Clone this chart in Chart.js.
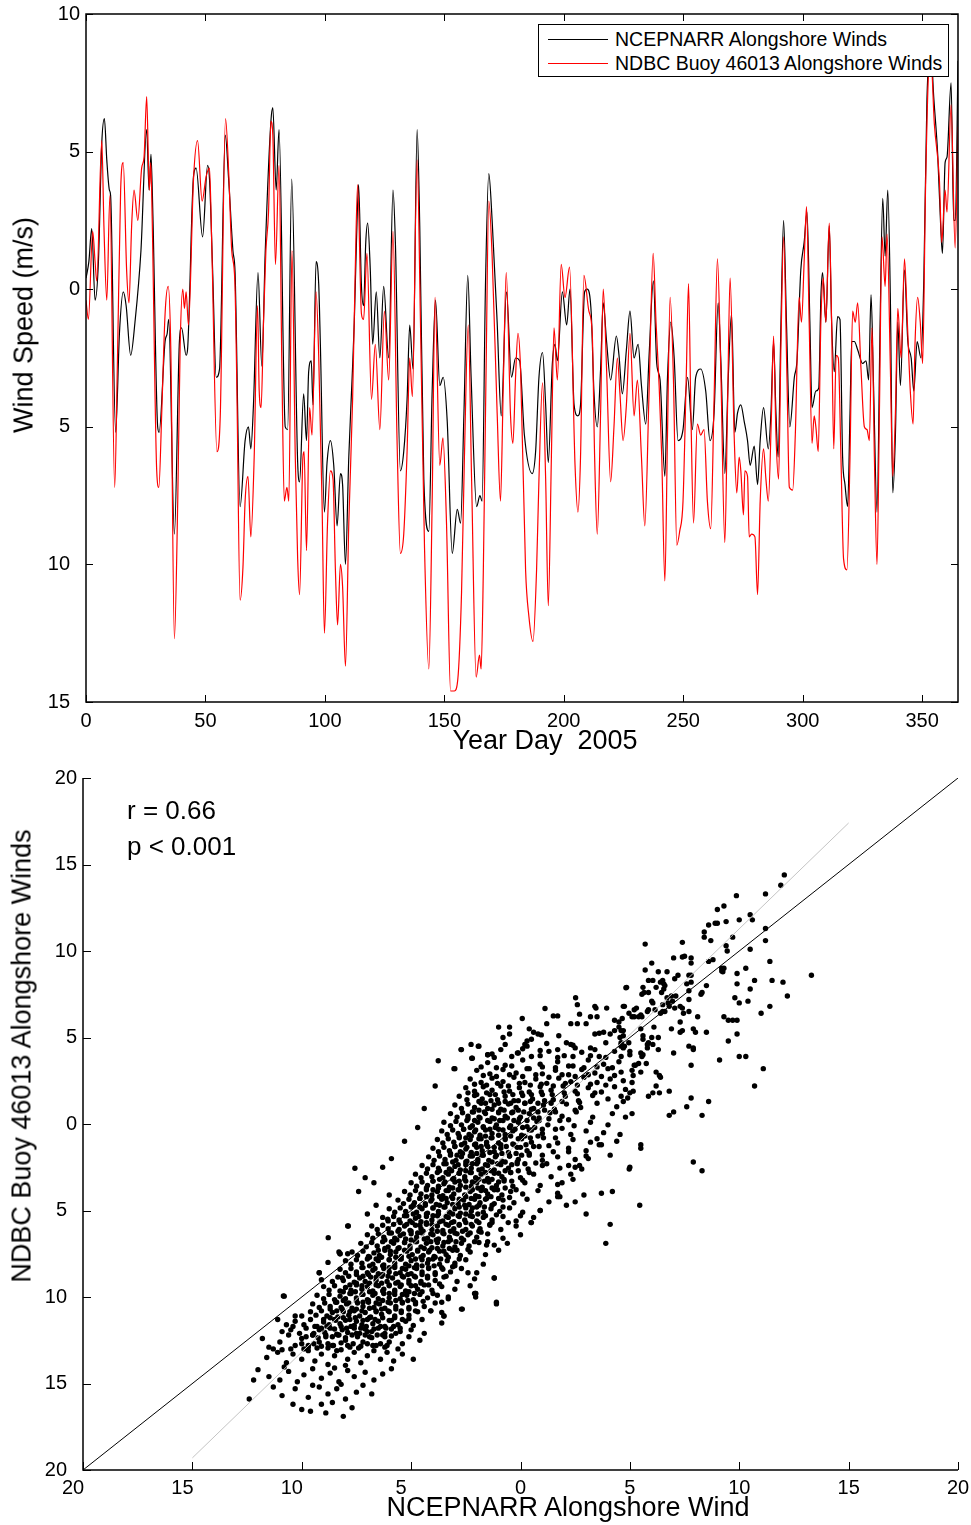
<!DOCTYPE html>
<html lang="en">

<head>
  <meta charset="UTF-8" />
  <title>Alongshore Winds 2005</title>
  <script src="https://cdn.jsdelivr.net/npm/chart.js"></script>
  <style>
    body { margin: 0; background: #fff; }
    #page { position: relative; width: 971px; height: 1525px; font-family: 'Liberation Sans', Arial, Helvetica, sans-serif; color: #000; }
    canvas { position: absolute; left: 0; }
    .label { position: absolute; white-space: pre; font-size: 27px; line-height: 1; }
    .centered { transform: translate(-50%, -50%); }
    .vertical { transform: translate(-50%, -50%) rotate(-90deg); }
    #legend { position: absolute; left: 538px; top: 24px; width: 409px; height: 51px; border: 1.5px solid #000; background: #fff; font-size: 19.5px; }
    #legend .row { position: absolute; left: 0; height: 24px; display: flex; align-items: center; }
    #legend .swatch { width: 60px; height: 0; border-top: 1.2px solid; margin: 0 7px 0 9px; }
  </style>
</head>

<body>
  <div id="page">
    <canvas id="windChart" width="971" height="760" style="top:0"></canvas>
    <canvas id="scatterChart" width="971" height="765" style="top:760px"></canvas>
    <div id="legend"></div>
    <div class="label vertical" style="left:24px; top:325px">Wind Speed (m/s)</div>
    <div class="label centered" style="left:545px; top:740px">Year Day  2005</div>
    <div class="label vertical" style="left:22px; top:1056px">NDBC Buoy 46013 Alongshore Winds</div>
    <div class="label centered" style="left:568px; top:1507px">NCEPNARR Alongshore Wind</div>
    <div class="label" style="left:127px; top:797px; font-size:26px">r = 0.66</div>
    <div class="label" style="left:127px; top:833px; font-size:26px">p &lt; 0.001</div>
  </div>

  <script>
    // ---- time series: [year day, wind speed m/s]
    const ncepSeries = [[0,0.4],[1.2,1.0],[2.4,2.2],[3.8,-0.4],[5.2,1.0],[6.6,5.3],[7.7,6.2],[8.7,4.7],[9.8,3.6],[10.3,3.4],[12.4,-5.2],[14,-1.6],[15.6,-0.1],[16.8,-0.6],[18.7,-2.4],[20.5,-1.2],[23,1.4],[25.4,5.8],[26.4,3.6],[27.2,4.9],[28,2.7],[30,-5.0],[30.6,-5.2],[33.1,-1.9],[34,-1.6],[34.6,-1.1],[37,-8.9],[39.1,-1.9],[40,-1.4],[41.9,-2.4],[42.5,-2.2],[45,4.1],[46.1,4.4],[48.8,1.9],[50.9,4.5],[51.7,4.0],[53,0.7],[54.5,-3.2],[55.9,-2.9],[58.3,5.6],[59.7,4.0],[61.5,1.4],[62.4,0.6],[64.5,-7.9],[66.6,-5.5],[68,-5.0],[69,-5.8],[70.1,-4.2],[72,0.6],[73.6,-2.8],[75,1.3],[77.4,6.1],[78.2,6.6],[79.6,3.6],[80.8,5.8],[83.4,-5.0],[84.4,-5.1],[86.1,4.0],[88.6,-6.3],[89.4,-7.0],[91.1,-3.8],[92.3,-5.5],[93.2,-3.0],[94.3,-2.6],[95,-4.2],[96.3,1.0],[97.4,0.2],[98.1,-2.0],[99.8,-8.1],[100.9,-6.3],[102.3,-5.5],[103.7,-6.4],[105.1,-8.6],[106.5,-6.7],[107.4,-7.1],[108.6,-10.0],[110,-6.1],[111.4,-3.2],[112.3,-1.2],[113.2,1.7],[114.1,3.8],[115.3,0.1],[116.2,-0.6],[117.1,1.7],[117.9,2.4],[119,0.7],[120,-2.0],[121.5,-0.1],[123,-2.5],[124.6,0.1],[126.7,-2.5],[128.5,3.6],[129.5,1.7],[131.6,-6.6],[133,-5.9],[134.4,-4.0],[135.5,-1.3],[136.9,-2.9],[138.6,5.8],[139.7,2.3],[141.4,-6.9],[143.5,-8.8],[144.9,-3.7],[146.3,-0.4],[148.1,-3.5],[149.5,-3.2],[151.2,-4.8],[153.3,-9.6],[155.4,-8.0],[156.8,-8.5],[158.2,-4.5],[159.8,0.5],[161.2,-3.2],[163.5,-7.9],[164.9,-7.5],[165.8,-7.7],[167.2,0.1],[168.6,4.2],[170,2.5],[172.1,-1.2],[173.8,-4.6],[176,-0.1],[178.1,-3.2],[179.8,-2.5],[181.5,-2.6],[183.5,-5.3],[186.8,-6.7],[188.2,-5.9],[189.6,-3.2],[191.1,-2.3],[192.4,-4.2],[193.5,-6.3],[195.2,-2.7],[196.3,-2.0],[197.3,-2.6],[199.4,-0.1],[201.2,-1.3],[202.6,0.0],[204.3,-4.2],[205.9,-4.6],[207,-4.2],[208.7,-0.1],[209.8,0.0],[211.5,-0.9],[212.6,-3.7],[214,-5.0],[215.4,-2.9],[216.5,-0.5],[217.9,-1.9],[219.6,-3.3],[222,-1.7],[223.1,-2.4],[224.5,-3.8],[226.2,-2.2],[227.7,-0.8],[229.4,-2.5],[231.1,-2.0],[232.5,-3.5],[234.3,-4.9],[235.7,-2.4],[237.5,0.3],[238.9,-2.7],[240.3,-3.3],[242.3,-6.8],[243.4,-3.2],[244.8,-1.2],[246.2,-2.5],[247.8,-5.5],[249.9,-5.1],[251.8,-3.2],[253.8,-5.1],[255.2,-3.2],[257.3,-2.9],[259.4,-3.7],[261.2,-5.5],[262.9,-4.5],[264.6,-0.5],[265.7,-2.5],[267.4,-6.7],[268.8,-3.3],[270.2,-0.9],[271.6,-5.2],[272.7,-4.5],[274.1,-4.2],[275.5,-4.8],[276.9,-5.5],[278,-6.4],[279.7,-5.7],[281.1,-7.1],[282.2,-5.5],[283.6,-4.3],[285.6,-5.8],[286.7,-4.5],[287.8,-1.9],[288.8,-4.5],[289.7,-6.1],[290.9,-1.2],[292,2.5],[293.2,-1.2],[294.6,-5.0],[296.5,-3.2],[297.6,-2.6],[299.2,0.7],[300.6,1.7],[301.8,2.8],[303,-1.2],[303.9,-4.3],[305.5,-3.7],[306.7,-3.6],[307.6,-0.3],[308.3,0.6],[309.7,-1.2],[311.1,2.3],[312.1,-1.2],[313.2,-3.0],[314.6,-1.0],[315.6,-1.1],[316.7,-6.1],[317.7,-7.1],[318.8,-7.9],[319.8,-4.5],[320.5,-1.9],[321.6,-1.9],[323,-2.2],[325.1,-2.7],[326.5,-2.6],[327.6,-3.3],[328.6,-0.2],[329.7,-3.7],[331.1,-8.1],[332.4,-1.2],[333.5,3.3],[334.5,1.2],[335.6,3.6],[336.7,-0.4],[337.7,-7.4],[338.8,-5.3],[339.8,-1.2],[340.9,-3.5],[342.6,0.7],[344,-1.9],[345.4,-2.5],[346.5,-3.7],[347.9,-1.9],[349.5,-2.5],[350.7,0.4],[352,6.9],[353.5,8.8],[354.9,6.9],[356.5,4.9],[357.9,2.0],[358.5,1.3],[359.6,4.6],[360.4,4.8],[362.1,7.5],[363.2,2.5],[363.9,2.5],[365,8.3]];

    const buoySeries = [[0,-0.4],[1,-1.1],[2.8,2.1],[3.8,1.0],[4.5,0.3],[6.6,5.4],[7.5,2.3],[8.7,-0.4],[10,3.4],[12,-7.2],[13.1,-2.9],[14.5,3.6],[15.6,4.6],[17,0.7],[18,-0.5],[19.1,2.3],[20.1,3.6],[21.7,2.5],[23.3,4.4],[24.3,4.8],[25.4,7.0],[26.5,3.6],[27.1,4.6],[27.7,2.6],[29.6,-6.6],[30.5,-7.2],[31.7,-4.5],[33.1,-0.9],[34.4,0.1],[35.5,-2.2],[37,-12.7],[38.4,-7.7],[39.4,-2.1],[40.5,0.0],[41.2,-0.7],[41.9,-0.1],[42.9,-1.3],[45,4.0],[46.7,5.4],[48.6,3.2],[50.3,4.1],[51.7,4.4],[52.7,1.4],[54.8,-5.9],[56.2,-4.6],[58.4,6.2],[59.8,4.1],[61,1.4],[62.3,0.3],[63.1,-3.3],[64.5,-11.3],[65.7,-10.1],[66.6,-7.7],[67.8,-6.8],[69,-9.0],[70.4,-6.1],[71.8,-0.6],[72.5,-3.7],[73.3,-4.3],[74.3,-1.2],[75.3,1.4],[76.4,2.8],[77.4,6.1],[78.2,5.6],[79.3,0.9],[80.8,4.5],[82,-2.9],[83,-7.7],[84.1,-7.2],[84.9,-7.7],[86.2,1.4],[87.6,-6.1],[88.6,-9.8],[89.4,-11.1],[90.8,-6.1],[91.3,-5.9],[92.3,-9.5],[93.6,-4.3],[94.6,-5.3],[96.3,-0.1],[97.4,-2.4],[98.8,-7.7],[99.8,-12.5],[101.1,-8.5],[102.3,-6.6],[103.4,-6.9],[104.4,-10.2],[105.3,-12.2],[106.5,-10.0],[107.4,-10.8],[108.6,-13.7],[110,-8.5],[111.6,-4.0],[112.7,0.7],[113.7,3.8],[115.3,-0.9],[116.2,-1.1],[117.6,1.3],[119.5,-4.0],[121.1,-2.0],[123,-5.1],[124.9,-0.8],[126.7,-3.3],[128.5,2.1],[130.2,-5.5],[131.6,-9.6],[133,-8.9],[134.4,-5.9],[135.5,-2.5],[136.6,-3.9],[138.6,4.7],[140,-1.2],[141.7,-9.4],[143.5,-13.8],[144.9,-7.7],[146.1,-0.3],[148.1,-6.4],[149.4,-5.4],[150.9,-8.5],[152.6,-14.6],[154.2,-14.6],[155.6,-14.2],[157.2,-11.0],[158.4,-6.1],[160,-1.3],[161.4,-6.9],[163.3,-14.1],[164.7,-13.3],[165.4,-13.8],[166.3,-10.3],[167.5,-2.7],[168.6,3.2],[170,1.2],[172.1,-4.5],[173.5,-7.7],[174.6,-3.8],[175.9,0.6],[177.7,-4.6],[178.7,-5.6],[179.8,-3.2],[180.8,-1.6],[181.9,-2.9],[184,-10.2],[185.4,-11.9],[187.1,-12.8],[188.6,-10.2],[189.6,-6.9],[191.1,-3.4],[192.4,-6.9],[193.5,-11.5],[194.8,-6.1],[195.9,-1.4],[197.3,-3.3],[198.9,0.9],[200.5,-0.3],[202.4,0.8],[204.7,-6.4],[205.9,-8.1],[207,-6.1],[208.4,0.5],[210.5,-0.8],[211.9,-1.6],[212.9,-6.1],[214,-8.9],[215.4,-4.5],[216.5,0.0],[217.9,-2.9],[219.6,-7.0],[221,-5.0],[222.4,-2.5],[223.5,-3.8],[224.8,-5.5],[226.2,-4.2],[227.7,-1.6],[229.4,-4.6],[230.8,-3.3],[232.5,-6.1],[233.9,-8.6],[235.7,-3.7],[237.4,1.3],[238.6,-1.2],[239.9,-3.5],[241,-6.1],[242.3,-10.6],[243.4,-5.3],[244.5,-0.3],[245.9,-3.3],[247.3,-9.3],[248.5,-8.8],[249.9,-7.7],[251.3,-3.0],[252.2,0.2],[253.2,-4.5],[254.3,-8.5],[255.9,-4.9],[257.3,-5.3],[258.7,-5.1],[260.1,-7.7],[261.5,-8.7],[262.9,-4.0],[264.3,1.1],[265.7,-2.9],[267.4,-9.2],[268.5,-4.5],[269.6,0.4],[271.3,-5.3],[272.4,-7.4],[273.4,-6.1],[274.1,-6.6],[275.2,-8.2],[275.8,-6.6],[276.9,-6.8],[277.6,-9.0],[278.6,-8.9],[280,-9.0],[281.1,-11.1],[282.2,-7.7],[283.6,-5.8],[284.6,-6.9],[285.6,-7.7],[286.9,-4.6],[287.8,-1.7],[288.8,-5.3],[289.9,-6.9],[290.9,-2.0],[292,1.9],[293.4,-3.2],[294.4,-7.2],[295.8,-7.3],[296.9,-5.3],[298.5,-0.3],[299.5,-1.2],[300.6,1.0],[301.6,3.0],[302.7,-1.2],[303.9,-5.6],[304.8,-4.6],[305.5,-5.0],[306.5,-5.9],[307.6,-1.2],[308.6,0.4],[309.7,-1.2],[311.1,2.4],[312.1,-1.2],[313,-5.8],[314,-2.4],[314.9,-2.5],[316,-6.1],[317.1,-9.8],[318.5,-10.2],[319.8,-6.1],[320.9,-0.8],[322,-1.2],[323,-0.5],[324.4,-2.9],[325.8,-5.0],[326.9,-5.1],[327.9,-5.5],[329,-1.4],[330,-6.1],[331.1,-10.0],[332.1,-4.5],[333.2,1.9],[334.5,0.1],[335.3,2.0],[336.7,-2.9],[337.7,-6.8],[338.8,-4.5],[339.8,-0.7],[341.2,-2.5],[342.6,1.1],[343.8,-1.2],[345.1,-3.8],[346.2,-4.9],[347,-2.0],[348.1,-0.3],[349.2,-1.2],[350.2,-2.7],[351.4,3.6],[352.6,7.7],[353.7,8.3],[355.1,6.0],[357.2,4.0],[358.2,1.7],[359.6,3.6],[360.4,2.8],[362.1,6.7],[363.8,1.5],[365,5.9]];

    const seriesLabels = ['NCEPNARR Alongshore Winds', 'NDBC Buoy 46013 Alongshore Winds'];
    const seriesColors = ['#000000', '#ff0000'];
    const dayTicks = [0, 50, 100, 150, 200, 250, 300, 350];

    // ---- scatter: flat lists of (NCEPNARR, buoy) pairs
    const cloudRows = [
      -10.0,-16.5, -9.6,-16.6, -8.1,-16.9, -9.1,-16.2, -7.7,-16.4, -8.6,-16.1, -10.4,-16.2, -8.9,-16.7,
      -12.4,-15.9, -10.9,-15.7, -10.3,-15.3, -9.7,-15.8, -9.2,-15.2, -8.8,-15.6, -8.4,-15.3, -8.0,-15.9, -7.5,-15.5, -7.2,-15.1, -6.8,-15.6, -9.5,-15.1, -11.3,-15.2, -8.2,-15.05,
      -12.0,-14.2, -11.5,-14.6, -11.0,-14.8, -10.6,-14.3, -10.2,-14.9, -9.9,-14.5, -9.5,-14.15, -9.1,-14.7, -8.7,-14.4, -8.3,-14.9, -7.9,-14.25, -7.6,-14.6, -7.1,-14.35, -6.7,-14.8, -6.3,-14.45, -8.5,-14.1, -10.8,-14.05, -5.9,-14.15, -12.2,-14.8,
      -11.6,-13.5, -11.1,-13.2, -10.7,-13.8, -10.4,-13.3, -10.0,-13.6, -9.7,-13.1, -9.4,-13.7, -9.1,-13.3, -8.8,-13.9, -8.5,-13.4, -8.2,-13.05, -7.9,-13.6, -7.6,-13.2, -7.3,-13.8, -7.0,-13.4, -6.7,-13.1, -6.4,-13.6, -6.1,-13.2, -5.8,-13.7, -5.4,-13.3, -9.9,-13.0, -8.0,-13.95, -4.9,-13.6,
      -10.5,-13.0, -9.3,-12.95, -8.4,-13.1, -7.4,-12.95, -6.2,-12.9, -5.6,-13.0, -10.9,-13.05, -11.5,-12.9, -11.3,-13.0,
      -11.0,-12.6, -10.6,-12.2, -10.3,-12.8, -10.0,-12.4, -9.7,-12.9, -9.45,-12.1, -9.2,-12.6, -8.9,-12.3, -8.6,-12.8, -8.3,-12.2, -8.0,-12.5, -7.8,-12.9, -7.5,-12.1, -7.2,-12.6, -6.9,-12.3, -6.6,-12.8, -6.3,-12.2, -6.0,-12.6, -5.7,-12.1, -5.4,-12.7, -5.1,-12.3, -8.8,-12.95, -7.0,-12.0, -11.8,-12.4, -4.6,-12.5,
      -10.5,-11.9, -10.1,-12.1, -9.8,-11.8, -9.5,-12.2, -9.2,-11.9, -8.95,-12.05, -8.7,-11.8, -8.4,-12.15, -8.15,-11.9, -7.9,-12.05, -7.6,-11.8, -7.35,-12.1, -7.1,-11.85, -6.8,-12.0, -6.5,-11.8, -6.2,-12.1, -5.9,-11.85, -5.5,-12.0, -5.0,-11.9, -4.4,-12.1, -10.9,-12.0, -10.7,-11.6, -11.1,-11.3,
      -10.3,-11.4, -9.9,-11.6, -9.6,-11.3, -9.3,-11.7, -9.0,-11.45, -8.75,-11.6, -8.5,-11.3, -8.25,-11.55, -8.0,-11.35, -7.75,-11.7, -7.5,-11.4, -7.25,-11.6, -7.0,-11.3, -6.75,-11.55, -6.5,-11.4, -6.2,-11.7, -5.9,-11.35, -5.6,-11.6, -5.25,-11.4, -4.9,-11.65, -4.5,-11.3, -3.6,-11.5,
      -10.0,-11.1, -9.6,-10.85, -9.35,-11.05, -9.1,-10.8, -8.85,-11.1, -8.6,-10.9, -8.35,-11.15, -8.1,-10.85, -7.85,-11.05, -7.6,-10.8, -7.35,-11.1, -7.1,-10.9, -6.85,-11.15, -6.6,-10.85, -6.35,-11.0, -6.05,-10.8, -5.75,-11.1, -5.45,-10.9, -5.1,-11.05, -4.7,-10.85, -4.1,-10.8, -3.5,-11.1,
      -9.5,-10.4, -9.2,-10.6, -8.95,-10.35, -8.7,-10.55, -8.45,-10.3, -8.2,-10.6, -7.95,-10.4, -7.7,-10.65, -7.45,-10.35, -7.2,-10.55, -6.95,-10.3, -6.7,-10.6, -6.45,-10.4, -6.2,-10.65, -5.95,-10.35, -5.7,-10.55, -5.4,-10.3, -5.1,-10.6, -4.8,-10.4, -4.4,-10.55, -3.9,-10.35, -2.7,-10.7, -10.8,-9.95,
      -9.3,-9.9, -9.0,-10.1, -8.75,-9.85, -8.5,-10.15, -8.25,-9.95, -8.0,-10.1, -7.75,-9.8, -7.5,-10.05, -7.25,-9.85, -7.0,-10.15, -6.75,-9.9, -6.5,-10.1, -6.25,-9.8, -6.0,-10.05, -5.75,-9.85, -5.5,-10.1, -5.2,-9.9, -4.9,-10.15, -4.6,-9.85, -4.25,-10.05, -3.8,-9.9, -3.3,-10.1, -2.05,-9.8, -1.1,-10.3,
      -9.0,-9.4, -8.75,-9.6, -8.5,-9.35, -8.25,-9.65, -8.0,-9.45, -7.75,-9.6, -7.5,-9.3, -7.25,-9.55, -7.0,-9.4, -6.75,-9.65, -6.5,-9.35, -6.25,-9.55, -6.0,-9.3, -5.75,-9.6, -5.5,-9.4, -5.25,-9.65, -5.0,-9.35, -4.7,-9.55, -4.4,-9.3, -4.05,-9.6, -3.6,-9.4, -3.0,-9.55, -2.3,-9.35, -9.2,-8.6,
      -8.6,-9.1, -8.35,-8.85, -8.1,-9.05, -7.85,-8.8, -7.6,-9.15, -7.35,-8.9, -7.1,-9.1, -6.85,-8.85, -6.6,-9.05, -6.35,-8.8, -6.1,-9.1, -5.85,-8.9, -5.6,-9.15, -5.35,-8.85, -5.1,-9.05, -4.85,-8.8, -4.55,-9.1, -4.25,-8.9, -3.9,-9.05, -3.5,-8.85, -2.9,-9.1, -2.1,-8.95, -1.2,-8.9,
      -8.25,-8.4, -8.0,-8.6, -7.75,-8.35, -7.5,-8.55, -7.25,-8.3, -7.0,-8.6, -6.75,-8.45, -6.5,-8.65, -6.25,-8.35, -6.0,-8.55, -5.75,-8.3, -5.5,-8.6, -5.25,-8.4, -5.0,-8.65, -4.75,-8.35, -4.5,-8.55, -4.2,-8.3, -3.9,-8.6, -3.55,-8.4, -3.2,-8.55, -2.7,-8.35, -2.0,-8.6, -8.8,-8.0,
      -8.0,-7.9, -7.75,-8.1, -7.5,-7.85, -7.25,-8.05, -7.0,-7.8, -6.75,-8.1, -6.5,-7.9, -6.25,-8.15, -6.0,-7.85, -5.75,-8.05, -5.5,-7.8, -5.25,-8.1, -5.0,-7.9, -4.75,-8.15, -4.5,-7.85, -4.25,-8.05, -4.0,-7.8, -3.7,-8.1, -3.35,-7.9, -3.0,-8.05, -2.5,-7.85, -1.7,-8.1, -8.25,-7.5,
      -7.7,-7.4, -7.45,-7.6, -7.2,-7.35, -6.95,-7.65, -6.7,-7.45, -6.45,-7.6, -6.2,-7.3, -5.95,-7.55, -5.7,-7.4, -5.45,-7.65, -5.2,-7.35, -4.95,-7.55, -4.7,-7.3, -4.45,-7.6, -4.2,-7.4, -3.95,-7.65, -3.7,-7.35, -3.4,-7.55, -3.1,-7.3, -2.75,-7.6, -2.3,-7.4, -1.6,-7.55, -1.0,-7.3,
      -7.3,-6.9, -7.05,-7.1, -6.8,-6.85, -6.55,-7.05, -6.3,-6.8, -6.05,-7.1, -5.8,-6.9, -5.55,-7.15, -5.3,-6.85, -5.05,-7.05, -4.8,-6.8, -4.55,-7.1, -4.3,-6.9, -4.05,-7.15, -3.8,-6.85, -3.55,-7.05, -3.3,-6.8, -3.0,-7.1, -2.7,-6.9, -2.35,-7.05, -1.9,-6.85, -1.2,-7.0, -0.6,-6.9,
      -7.0,-6.4, -6.75,-6.6, -6.5,-6.35, -6.25,-6.55, -6.0,-6.3, -5.75,-6.6, -5.5,-6.45, -5.25,-6.65, -5.0,-6.35, -4.75,-6.55, -4.5,-6.3, -4.25,-6.6, -4.0,-6.4, -3.75,-6.65, -3.5,-6.35, -3.25,-6.55, -3.0,-6.3, -2.7,-6.6, -2.4,-6.4, -2.0,-6.55, -1.5,-6.35, -0.8,-6.6, 0.0,-6.4, -7.9,-5.9,
      -6.8,-5.9, -6.55,-6.1, -6.3,-5.85, -6.05,-6.05, -5.8,-5.8, -5.55,-6.1, -5.3,-5.9, -5.05,-6.15, -4.8,-5.85, -4.55,-6.05, -4.3,-5.8, -4.05,-6.1, -3.8,-5.9, -3.55,-6.15, -3.3,-5.85, -3.05,-6.05, -2.8,-5.8, -2.5,-6.1, -2.2,-5.9, -1.85,-6.05, -1.4,-5.85, -0.9,-6.1, -0.2,-5.9, 0.5,-5.7,
      -6.3,-5.4, -6.05,-5.6, -5.8,-5.35, -5.55,-5.55, -5.3,-5.3, -5.05,-5.6, -4.8,-5.45, -4.55,-5.65, -4.3,-5.35, -4.05,-5.55, -3.8,-5.3, -3.55,-5.6, -3.3,-5.4, -3.05,-5.65, -2.8,-5.35, -2.55,-5.55, -2.3,-5.3, -2.0,-5.6, -1.7,-5.4, -1.3,-5.55, -0.8,-5.35, -0.2,-5.6, 0.6,-5.4,
      -6.0,-4.9, -5.75,-5.1, -5.5,-4.85, -5.25,-5.05, -5.0,-4.8, -4.75,-5.1, -4.5,-4.9, -4.25,-5.15, -4.0,-4.85, -3.75,-5.05, -3.5,-4.8, -3.25,-5.1, -3.0,-4.9, -2.75,-5.15, -2.5,-4.85, -2.25,-5.05, -2.0,-4.8, -1.7,-5.1, -1.35,-4.9, -0.95,-5.05, -0.5,-4.85, 0.1,-5.1, 0.9,-5.0,
      -5.6,-4.4, -5.35,-4.6, -5.1,-4.35, -4.85,-4.55, -4.6,-4.3, -4.35,-4.6, -4.1,-4.45, -3.85,-4.65, -3.6,-4.35, -3.35,-4.55, -3.1,-4.3, -2.85,-4.6, -2.6,-4.4, -2.35,-4.65, -2.1,-4.35, -1.85,-4.55, -1.55,-4.3, -1.2,-4.6, -0.8,-4.4, -0.3,-4.55, 0.3,-4.35, 1.3,-4.5,
      -5.3,-3.9, -5.05,-4.1, -4.8,-3.85, -4.55,-4.05, -4.3,-3.8, -4.05,-4.1, -3.8,-3.9, -3.55,-4.15, -3.3,-3.85, -3.05,-4.05, -2.8,-3.8, -2.55,-4.1, -2.3,-3.9, -2.05,-4.15, -1.8,-3.85, -1.5,-4.05, -1.2,-3.8, -0.85,-4.1, -0.45,-3.9, 0.1,-4.05, 0.8,-3.85, 1.7,-4.0,
      -5.0,-3.4, -4.75,-3.6, -4.5,-3.35, -4.25,-3.55, -4.0,-3.3, -3.75,-3.6, -3.5,-3.45, -3.25,-3.65, -3.0,-3.35, -2.75,-3.55, -2.5,-3.3, -2.25,-3.6, -2.0,-3.4, -1.75,-3.65, -1.45,-3.35, -1.1,-3.55, -0.75,-3.3, -0.35,-3.6, 0.2,-3.4, 0.9,-3.55, 1.9,-3.4,
      -4.8,-2.9, -4.55,-3.1, -4.3,-2.85, -4.05,-3.05, -3.8,-2.8, -3.55,-3.1, -3.3,-2.9, -3.05,-3.15, -2.8,-2.85, -2.55,-3.05, -2.3,-2.8, -2.05,-3.1, -1.8,-2.9, -1.5,-3.15, -1.2,-2.85, -0.85,-3.05, -0.45,-2.8, 0.0,-3.1, 0.6,-2.9, 1.4,-3.05, 2.3,-2.9,
      -4.5,-2.4, -4.25,-2.6, -4.0,-2.35, -3.75,-2.55, -3.5,-2.3, -3.25,-2.6, -3.0,-2.45, -2.75,-2.65, -2.5,-2.35, -2.25,-2.55, -2.0,-2.3, -1.75,-2.6, -1.5,-2.4, -1.2,-2.65, -0.9,-2.35, -0.55,-2.55, -0.15,-2.3, 0.35,-2.6, 1.0,-2.4, 1.8,-2.55, 2.7,-2.4,
      -4.2,-1.9, -3.95,-2.1, -3.7,-1.85, -3.45,-2.05, -3.2,-1.8, -2.95,-2.1, -2.7,-1.9, -2.45,-2.15, -2.2,-1.85, -1.95,-2.05, -1.7,-1.8, -1.45,-2.1, -1.15,-1.9, -0.85,-2.15, -0.5,-1.85, -0.1,-2.05, 0.4,-1.8, 1.0,-2.1, 1.7,-1.9, 2.5,-2.05, 3.0,-1.85,
      -4.0,-1.4, -3.75,-1.6, -3.5,-1.35, -3.25,-1.55, -3.0,-1.3, -2.75,-1.6, -2.5,-1.45, -2.25,-1.65, -2.0,-1.35, -1.75,-1.55, -1.5,-1.3, -1.2,-1.6, -0.9,-1.4, -0.55,-1.65, -0.15,-1.35, 0.3,-1.55, 0.85,-1.3, 1.5,-1.6, 2.2,-1.4, 3.0,-1.55,
      -3.8,-0.9, -3.55,-1.1, -3.3,-0.85, -3.05,-1.05, -2.8,-0.8, -2.55,-1.1, -2.3,-0.9, -2.05,-1.15, -1.8,-0.85, -1.55,-1.05, -1.3,-0.8, -1.0,-1.1, -0.7,-0.9, -0.35,-1.15, 0.05,-0.85, 0.5,-1.05, 1.05,-0.8, 1.7,-1.1, 2.4,-0.9, 3.2,-1.05, 3.5,-0.85,
      -3.6,-0.4, -3.35,-0.6, -3.1,-0.35, -2.85,-0.55, -2.6,-0.3, -2.35,-0.6, -2.1,-0.45, -1.85,-0.65, -1.6,-0.35, -1.3,-0.55, -1.0,-0.3, -0.7,-0.6, -0.35,-0.4, 0.05,-0.65, 0.5,-0.35, 1.0,-0.55, 1.6,-0.3, 2.3,-0.6, 3.0,-0.4, 3.8,-0.5,
      -3.5,0.1, -3.2,-0.1, -2.95,0.15, -2.7,-0.05, -2.45,0.2, -2.2,-0.1, -1.95,0.1, -1.7,-0.15, -1.4,0.15, -1.1,-0.05, -0.8,0.2, -0.45,-0.1, -0.1,0.1, 0.3,-0.15, 0.75,0.15, 1.25,-0.05, 1.8,0.2, 2.45,-0.1, 3.2,0.1, 4.0,-0.05,
      -3.2,0.6, -2.9,0.4, -2.65,0.65, -2.4,0.45, -2.15,0.7, -1.9,0.4, -1.6,0.6, -1.3,0.35, -1.0,0.65, -0.7,0.45, -0.35,0.7, 0.0,0.4, 0.4,0.6, 0.85,0.35, 1.35,0.65, 1.9,0.45, 2.55,0.7, 3.3,0.4, 4.2,0.6,
      -3.0,1.1, -2.7,0.9, -2.4,1.15, -2.1,0.95, -1.8,1.2, -1.5,0.9, -1.2,1.1, -0.9,0.85, -0.55,1.15, -0.2,0.95, 0.2,1.2, 0.6,0.9, 1.05,1.1, 1.55,0.85, 2.1,1.15, 2.75,0.95, 3.5,1.2, 4.4,1.0,
      -2.8,1.6, -2.45,1.4, -2.1,1.65, -1.75,1.45, -1.4,1.7, -1.05,1.4, -0.7,1.6, -0.3,1.35, 0.1,1.65, 0.55,1.45, 1.0,1.7, 1.5,1.4, 2.05,1.6, 2.65,1.35, 3.3,1.65, 4.0,1.45, 4.6,1.6,
      -2.5,2.1, -2.1,1.9, -1.7,2.15, -1.3,1.95, -0.9,2.2, -0.5,1.9, -0.05,2.1, 0.4,1.85, 0.9,2.15, 1.4,1.95, 1.95,2.2, 2.5,1.9, 3.1,2.1, 3.7,1.85, 4.3,2.15, 4.8,2.0,
      -2.3,2.6, -1.8,2.4, -1.3,2.65, -0.8,2.45, -0.3,2.7, 0.2,2.4, 0.7,2.6, 1.2,2.35, 1.75,2.65, 2.3,2.45, 2.9,2.7, 3.5,2.4, 4.1,2.6, 4.7,2.5,
      -2.0,3.1, -1.4,2.9, -0.8,3.15, -0.2,2.95, 0.4,3.2, 1.0,2.9, 1.6,3.1, 2.2,2.85, 2.8,3.15, 3.4,2.95, 4.0,3.2, 4.6,3.0, 5.1,3.1,
      -3.0,3.2, -2.2,3.8, -1.5,3.55, -0.7,3.4, 0.1,3.7, 0.9,3.45, 1.7,3.6, 2.4,3.35, 3.1,3.7, 3.8,3.45, 4.5,3.6, 5.2,3.4,
      -2.7,4.3, -1.5,4.0, -0.1,4.1, 0.5,3.9, 1.3,4.2, 2.0,3.95, 2.8,4.15, 3.6,3.9, 4.3,4.2, 5.0,4.0,
      -1.9,4.5, -0.7,4.6, 0.3,4.5, 1.2,4.65, 2.3,4.6, 3.2,4.4, 3.9,4.7, 4.6,4.5
    ];

    const cloudFill = [
      -10.0,-12.7, -9.7,-12.8, -9.45,-12.7, -9.1,-12.85, -8.8,-12.7, -8.55,-12.8, -8.2,-12.65, -7.9,-12.8, -7.65,-12.7, -7.3,-12.85, -7.0,-12.7, -6.75,-12.8, -6.4,-12.7, -6.1,-12.8,
      -9.8,-12.3, -9.5,-12.2, -9.25,-12.35, -8.9,-12.2, -8.6,-12.3, -8.35,-12.2, -8.0,-12.35, -7.7,-12.2, -7.45,-12.3, -7.1,-12.2, -6.8,-12.35, -6.55,-12.2, -6.2,-12.3, -5.9,-12.25,
      -9.4,-11.7, -9.1,-11.8, -8.85,-11.7, -8.5,-11.85, -8.2,-11.7, -7.95,-11.8, -7.6,-11.65, -7.3,-11.8, -7.05,-11.7, -6.7,-11.85, -6.4,-11.7, -6.15,-11.8, -5.8,-11.7, -5.5,-11.8,
      -9.0,-11.3, -8.7,-11.2, -8.45,-11.35, -8.1,-11.2, -7.8,-11.3, -7.55,-11.2, -7.2,-11.35, -6.9,-11.2, -6.65,-11.3, -6.3,-11.2, -6.0,-11.35, -5.75,-11.2, -5.4,-11.3, -5.1,-11.25,
      -8.7,-10.7, -8.4,-10.8, -8.15,-10.7, -7.8,-10.85, -7.5,-10.7, -7.25,-10.8, -6.9,-10.65, -6.6,-10.8, -6.35,-10.7, -6.0,-10.85, -5.7,-10.7, -5.45,-10.8, -5.1,-10.7, -4.8,-10.8,
      -8.4,-10.3, -8.1,-10.2, -7.85,-10.35, -7.5,-10.2, -7.2,-10.3, -6.95,-10.2, -6.6,-10.35, -6.3,-10.2, -6.05,-10.3, -5.7,-10.2, -5.4,-10.35, -5.15,-10.2, -4.8,-10.3, -4.45,-10.25,
      -8.1,-9.7, -7.8,-9.8, -7.55,-9.7, -7.2,-9.85, -6.9,-9.7, -6.65,-9.8, -6.3,-9.65, -6.0,-9.8, -5.75,-9.7, -5.4,-9.85, -5.1,-9.7, -4.85,-9.8, -4.5,-9.7, -4.0,-9.8,
      -7.8,-9.3, -7.5,-9.2, -7.25,-9.35, -6.9,-9.2, -6.6,-9.3, -6.35,-9.2, -6.0,-9.35, -5.7,-9.2, -5.45,-9.3, -5.1,-9.2, -4.8,-9.35, -4.55,-9.2, -4.2,-9.3, -3.7,-9.25,
      -7.5,-8.7, -7.2,-8.8, -6.95,-8.7, -6.6,-8.85, -6.3,-8.7, -6.05,-8.8, -5.7,-8.65, -5.4,-8.8, -5.15,-8.7, -4.8,-8.85, -4.5,-8.7, -4.25,-8.8, -3.9,-8.7, -3.4,-8.8,
      -7.2,-8.3, -6.9,-8.2, -6.65,-8.35, -6.3,-8.2, -6.0,-8.3, -5.75,-8.2, -5.4,-8.35, -5.1,-8.2, -4.85,-8.3, -4.5,-8.2, -4.2,-8.35, -3.95,-8.2, -3.6,-8.3, -3.1,-8.25,
      -6.9,-7.7, -6.6,-7.8, -6.35,-7.7, -6.0,-7.85, -5.7,-7.7, -5.45,-7.8, -5.1,-7.65, -4.8,-7.8, -4.55,-7.7, -4.2,-7.85, -3.9,-7.7, -3.65,-7.8, -3.3,-7.7, -2.8,-7.8,
      -6.5,-7.3, -6.2,-7.2, -5.95,-7.35, -5.6,-7.2, -5.3,-7.3, -5.05,-7.2, -4.7,-7.35, -4.4,-7.2, -4.15,-7.3, -3.8,-7.2, -3.5,-7.35, -3.25,-7.2, -2.9,-7.3, -2.4,-7.25,
      -6.2,-6.7, -5.9,-6.8, -5.65,-6.7, -5.3,-6.85, -5.0,-6.7, -4.75,-6.8, -4.4,-6.65, -4.1,-6.8, -3.85,-6.7, -3.5,-6.85, -3.2,-6.7, -2.95,-6.8, -2.6,-6.7, -2.1,-6.8,
      -5.9,-6.3, -5.6,-6.2, -5.35,-6.35, -5.0,-6.2, -4.7,-6.3, -4.45,-6.2, -4.1,-6.35, -3.8,-6.2, -3.55,-6.3, -3.2,-6.2, -2.9,-6.35, -2.65,-6.2, -2.3,-6.3, -1.8,-6.25,
      -5.5,-5.7, -5.2,-5.8, -4.95,-5.7, -4.6,-5.85, -4.3,-5.7, -4.05,-5.8, -3.7,-5.65, -3.4,-5.8, -3.15,-5.7, -2.8,-5.85, -2.5,-5.7, -2.25,-5.8, -1.9,-5.7, -1.4,-5.8,
      -5.2,-5.3, -4.9,-5.2, -4.65,-5.35, -4.3,-5.2, -4.0,-5.3, -3.75,-5.2, -3.4,-5.35, -3.1,-5.2, -2.85,-5.3, -2.5,-5.2, -2.2,-5.35, -1.95,-5.2, -1.6,-5.3, -1.1,-5.25,
      -4.9,-4.7, -4.6,-4.8, -4.35,-4.7, -4.0,-4.85, -3.7,-4.7, -3.45,-4.8, -3.1,-4.65, -2.8,-4.8, -2.55,-4.7, -2.2,-4.85, -1.9,-4.7, -1.65,-4.8, -1.3,-4.7, -0.8,-4.8,
      -4.6,-4.3, -4.3,-4.2, -4.05,-4.35, -3.7,-4.2, -3.4,-4.3, -3.15,-4.2, -2.8,-4.35, -2.5,-4.2, -2.25,-4.3, -1.9,-4.2, -1.6,-4.35, -1.35,-4.2, -1.0,-4.3, -0.5,-4.25,
      -4.3,-3.7, -4.0,-3.8, -3.75,-3.7, -3.4,-3.85, -3.1,-3.7, -2.85,-3.8, -2.5,-3.65, -2.2,-3.8, -1.95,-3.7, -1.6,-3.85, -1.3,-3.7, -1.05,-3.8, -0.7,-3.7, -0.2,-3.8,
      -4.0,-3.3, -3.7,-3.2, -3.45,-3.35, -3.1,-3.2, -2.8,-3.3, -2.55,-3.2, -2.2,-3.35, -1.9,-3.2, -1.65,-3.3, -1.3,-3.2, -1.0,-3.35, -0.75,-3.2, -0.4,-3.3, 0.1,-3.25,
      -3.7,-2.7, -3.4,-2.8, -3.15,-2.7, -2.8,-2.85, -2.5,-2.7, -2.25,-2.8, -1.9,-2.65, -1.6,-2.8, -1.35,-2.7, -1.0,-2.85, -0.7,-2.7, -0.45,-2.8, -0.1,-2.7, 0.4,-2.8,
      -3.4,-2.3, -3.1,-2.2, -2.85,-2.35, -2.5,-2.2, -2.2,-2.3, -1.95,-2.2, -1.6,-2.35, -1.3,-2.2, -1.05,-2.3, -0.7,-2.2, -0.4,-2.35, -0.15,-2.2, 0.2,-2.3, 0.7,-2.25,
      -3.2,-1.7, -2.9,-1.8, -2.65,-1.7, -2.3,-1.85, -2.0,-1.7, -1.75,-1.8, -1.4,-1.65, -1.1,-1.8, -0.85,-1.7, -0.5,-1.85, -0.2,-1.7, 0.05,-1.8, 0.4,-1.7, 1.0,-1.8,
      -3.0,-1.3, -2.7,-1.2, -2.45,-1.35, -2.1,-1.2, -1.8,-1.3, -1.55,-1.2, -1.2,-1.35, -0.9,-1.2, -0.65,-1.3, -0.3,-1.2, 0.0,-1.35, 0.25,-1.2, 0.6,-1.3, 1.3,-1.25,
      -2.8,-0.7, -2.5,-0.8, -2.25,-0.7, -1.9,-0.85, -1.6,-0.7, -1.35,-0.8, -1.0,-0.65, -0.7,-0.8, -0.45,-0.7, -0.1,-0.85, 0.2,-0.7, 0.45,-0.8, 0.8,-0.7, 1.6,-0.8,
      -2.6,-0.3, -2.3,-0.2, -2.05,-0.35, -1.7,-0.2, -1.4,-0.3, -1.15,-0.2, -0.8,-0.35, -0.5,-0.2, -0.25,-0.3, 0.1,-0.2, 0.4,-0.35, 0.65,-0.2, 1.0,-0.3, 1.9,-0.25,
      -2.4,0.3, -2.1,0.2, -1.85,0.35, -1.5,0.2, -1.2,0.3, -0.95,0.2, -0.6,0.35, -0.3,0.2, -0.05,0.3, 0.3,0.2, 0.6,0.35, 0.85,0.2, 1.3,0.3, 2.2,0.25,
      -2.2,0.7, -1.9,0.8, -1.65,0.7, -1.3,0.85, -1.0,0.7, -0.75,0.8, -0.4,0.65, -0.1,0.8, 0.15,0.7, 0.5,0.85, 0.8,0.7, 1.1,0.8, 1.6,0.7, 2.5,0.8,
      -1.9,1.3, -1.6,1.2, -1.35,1.35, -1.0,1.2, -0.7,1.3, -0.45,1.2, -0.1,1.35, 0.2,1.2, 0.45,1.3, 0.8,1.2, 1.1,1.35, 1.4,1.2, 1.9,1.3, 2.7,1.25
    ];

    const upperFill = [
      -2.4,1.8, -2.0,1.7, -1.55,1.8, -1.15,1.7, -0.75,1.85, -0.35,1.7, 0.05,1.8, 0.5,1.7, 0.95,1.85, 1.45,1.7, 2.0,1.8, 2.6,1.75, 3.4,1.8,
      -2.1,2.3, -1.55,2.25, -1.05,2.35, -0.55,2.2, -0.05,2.35, 0.45,2.25, 0.95,2.3, 1.5,2.2, 2.05,2.35, 2.6,2.25, 3.2,2.3, 3.9,2.25,
      -1.7,2.8, -1.1,2.75, -0.5,2.85, 0.1,2.75, 0.7,2.85, 1.3,2.7, 1.9,2.85, 2.5,2.75, 3.1,2.85, 3.7,2.75, 4.3,2.8,
      -1.8,3.3, -1.1,3.25, -0.4,3.35, 0.3,3.2, 1.0,3.3, 1.6,3.25, 2.2,3.35, 2.9,3.25, 3.5,3.3, 4.2,3.25,
      -1.2,3.85, -0.4,3.9, 0.9,3.95, 1.7,3.85, 2.4,3.9, 3.2,3.95, 3.9,3.85, 4.6,3.9,
      -0.9,4.3, 0.1,4.35, 0.9,4.25, 1.7,4.3, 2.5,4.4, 3.4,4.3
    ];

    const outlierPairs = [
      -10.84,-9.94, -9.2,-8.6, -8.79,-6.57, -7.57,-2.56, -7.1,-3.1, -6.3,-2.5, -7.4,-3.9, -7.87,-5.9, -8.25,-7.5, -6.7,-3.4, -5.9,-2.0, -5.3,-1.0, -4.7,-0.2, -4.4,0.9, -3.9,2.2,
      -6.07,-5.5, -6.6,-4.7, -6.0,-4.1, -7.0,-5.2, -7.9,-7.5, -8.3,-7.4, -8.15,-8.9, -9.1,-9.0, -10.3,-11.1, -10.4,-11.7,
      -3.76,3.66, -3.04,3.2, -2.72,4.3, -2.26,4.6, -1.93,4.5, -2.23,3.8, -1.5,4.0, -1.3,4.05, -0.14,4.1, 0.2,4.6, 0.3,4.8, 0.5,4.9, 2.1,4.7, 2.4,4.55,
      -1.0,5.6, -0.5,5.6, -0.8,5.0, -0.5,5.2, 0.4,5.5, 0.6,5.3, 0.8,5.2, 0.95,5.15, 1.2,5.8, 1.75,5.1, 2.3,5.8, 2.6,5.8, 3.0,5.8, 3.4,5.2, 3.6,5.25, 3.8,5.3, 4.1,5.2, 4.3,5.4, 4.5,5.6, 4.7,5.4, 4.3,6.0, 4.5,5.9,
      0.08,6.1, 1.5,6.25, 1.7,6.25, 2.7,6.35, 3.2,6.2, 3.5,6.2, 1.12,6.68, 2.52,7.3, 2.6,6.9, 3.4,6.8, 3.45,6.7, 3.94,6.7, 4.7,6.8, 4.96,6.4, 4.82,7.88,
      12.06,14.4, 11.9,13.8, 11.2,13.3, 9.87,13.2, 9.0,12.4, 9.3,12.6, 9.4,11.7, 10.0,11.8, 10.5,12.1, 10.6,11.8, 11.2,11.3, 11.2,10.6, 10.5,10.1, 11.4,9.4, 13.3,8.6, 12.0,8.2, 12.2,7.4, 11.5,8.3, 11.4,6.8, 11.0,6.4,
      10.7,8.3, 10.5,7.8, 10.4,7.1, 10.3,9.0, 9.9,8.7, 9.9,8.1, 10.0,7.0, 9.8,7.3, 9.9,6.0, 9.9,5.2, 9.5,4.8, 10.3,3.9, 10.0,3.9, 11.1,3.2, 10.7,2.2, 9.7,6.0, 9.5,6.0, 9.3,6.2, 9.1,3.7, 9.7,10.8,
      9.4,10.3, 9.45,10.0, 8.7,10.6, 8.6,11.5, 8.9,11.6, 9.0,11.6, 8.4,11.1, 8.4,10.8, 9.2,9.0, 9.25,8.8, 9.3,9.0, 9.2,8.85, 8.8,9.5, 8.6,9.4, 8.5,8.0, 8.3,7.6, 8.25,7.5, 8.5,5.3, 8.0,5.3, 7.9,5.5,
      7.8,8.6, 7.8,9.3, 7.8,9.6, 7.5,9.7, 7.4,9.65, 7.0,9.6, 7.4,10.5, 7.7,8.6, 7.8,8.2, 7.6,8.1, 7.2,8.6, 7.05,8.4, 6.7,8.8, 6.5,8.3, 6.55,8.1, 6.4,8.2, 6.0,9.3, 5.7,8.9, 5.7,10.4, 6.05,8.3,
      5.85,8.3, 6.3,8.8, 5.6,7.9, 5.65,7.6, 5.55,7.5, 5.85,7.6, 4.85,7.9, 6.2,7.9, 6.45,7.6, 6.6,8.0, 6.55,7.8, 6.7,7.3, 6.9,7.4, 7.1,7.4, 6.95,7.1, 7.7,7.7, 7.7,7.2, 7.3,6.8, 7.05,6.7, 6.8,6.8,
      6.75,7.0, 6.5,6.9, 6.4,6.4, 6.6,6.5, 6.5,6.5, 6.15,6.6, 6.0,7.1, 6.05,7.0, 5.8,6.5, 5.85,6.6, 5.3,6.7, 5.2,6.6, 5.2,6.2, 5.1,6.2, 5.4,6.2, 4.75,6.8, 4.65,6.1, 5.55,6.2, 5.5,6.3, 8.1,6.2,
      7.4,6.7, 7.45,6.4, 7.7,6.5, 7.3,5.9, 7.3,5.3, 7.4,5.4, 6.9,5.5, 7.7,4.5, 7.9,4.4, 7.9,4.3, 7.0,4.1, 6.3,4.3, 6.1,5.6, 6.0,5.0, 6.05,4.6, 6.3,5.0, 5.6,5.1, 5.6,4.9, 5.5,5.5, 5.8,4.6,
      5.85,4.7, 5.8,4.4, 5.6,4.0, 5.5,4.1, 5.55,3.9, 5.0,4.2, 4.95,4.7, 4.6,4.6, 4.7,4.4, 4.55,5.0, 4.6,4.7, 4.75,4.5, 4.7,5.1, 4.6,5.4, 5.4,3.5, 5.25,3.4, 5.75,3.5, 5.5,3.0, 6.2,3.0, 6.35,2.8,
      6.4,2.7, 5.15,2.8, 5.1,2.4, 5.15,1.9, 5.0,1.8, 6.05,1.8, 6.35,1.8, 6.2,2.2, 6.8,1.9, 7.8,3.4, 7.8,1.5, 8.6,1.3, 7.6,1.0, 5.85,1.6, 4.9,1.5, 4.7,1.3, 5.1,0.6, 4.8,0.4, 7.0,0.7, 6.8,0.5,
      8.3,0.5, 5.5,-1.2, 4.55,-0.6, 5.5,-1.4, 4.97,-2.6, 7.9,-2.2, 8.3,-2.7, 5.45,-4.7,
      3.0,-5.2, 3.9,-6.9, 4.1,-5.8, 5.0,-2.5, 3.7,-4.0, 4.2,-3.9, 2.5,-4.5, 2.1,-4.7, 1.8,-4.2, 2.9,-4.1, 0.9,-5.0, 0.48,-5.7, -1.2,-8.9, -1.1,-10.4, -2.05,-9.8, -2.05,-10.0, -2.66,-10.7, -3.5,-11.1, -4.1,-10.8,
      1.2,-2.3, 1.7,-3.5, 2.2,-2.4, 2.5,-2.5, 2.8,-2.6, 2.4,-3.2, 3.1,-2.0, 3.6,-1.2, 4.1,-1.8, 4.4,-1.0, 2.2,-1.6, 3.7,-1.2, 1.7,-4.2, -0.56,-5.7, 0.0,-5.3, -1.3,-5.7, -1.5,-6.8, -1.55,-7.0, -1.9,-6.2, -2.4,-8.6,
      -2.1,-9.8, -3.3,-10.0, -3.6,-10.3, -3.6,-10.9, -3.0,-8.2
    ];

    // ---- reference lines for the scatter panel
    const oneToOneX = [-20, 20];
    const oneToOneY = [-20, 20];
    const fitLineX = [-15, 15];
    const fitLineY = [-19.3, 17.4];

    const fontFamily = "'Liberation Sans', Arial, Helvetica, sans-serif";
    const tickFont = { family: fontFamily, size: 20 };

    function toPoints(flat) {
      const pts = [];
      for (let i = 0; i < flat.length; i += 2) pts.push({ x: flat[i], y: flat[i + 1] });
      return pts;
    }

    // MATLAB-style inward ticks plus frame
    const innerTicks = {
      id: 'innerTicks',
      afterDatasetsDraw(chart, args, opts) {
        const { ctx, chartArea: a } = chart;
        const x = chart.scales.x, y = chart.scales.y;
        const len = opts.length || 8;
        ctx.save();
        ctx.strokeStyle = '#000';
        ctx.lineWidth = 1.5;
        ctx.beginPath();
        if (opts.box) {
          ctx.rect(a.left, a.top, a.right - a.left, a.bottom - a.top);
        } else {
          ctx.moveTo(a.left, a.top);
          ctx.lineTo(a.left, a.bottom);
          ctx.lineTo(a.right, a.bottom);
        }
        ctx.stroke();
        ctx.lineWidth = 1;
        ctx.beginPath();
        x.ticks.forEach(t => {
          const px = Math.round(x.getPixelForValue(t.value)) + 0.5;
          ctx.moveTo(px, a.bottom);
          ctx.lineTo(px, a.bottom - len);
          if (opts.box) { ctx.moveTo(px, a.top); ctx.lineTo(px, a.top + len); }
        });
        y.ticks.forEach(t => {
          const py = Math.round(y.getPixelForValue(t.value)) + 0.5;
          ctx.moveTo(a.left, py);
          ctx.lineTo(a.left + len, py);
          if (opts.box) { ctx.moveTo(a.right, py); ctx.lineTo(a.right - len, py); }
        });
        ctx.stroke();
        ctx.restore();
      }
    };

    // labels lost their minus sign in the original, but keep its space
    const absLabel = pad => v => (v < 0 ? Math.abs(v) + pad : String(v));

    // fixed axis sizes so the plot boxes land where the original's do
    const fixWidth = w => s => { s.width = w; s.paddingTop = 0; s.paddingBottom = 0; };
    const fixHeight = h => s => { s.height = h; s.paddingLeft = 0; s.paddingRight = 0; };

    const windChart = new Chart(document.getElementById('windChart'), {
      type: 'line',
      data: {
        datasets: [
          {
            label: seriesLabels[0],
            data: ncepSeries.map(p => ({ x: p[0], y: p[1] })),
            borderColor: seriesColors[0],
            borderWidth: 1.2,
            pointRadius: 0,
            cubicInterpolationMode: 'monotone',
            order: 2
          },
          {
            label: seriesLabels[1],
            data: buoySeries.map(p => ({ x: p[0], y: p[1] })),
            borderColor: seriesColors[1],
            borderWidth: 1.2,
            pointRadius: 0,
            cubicInterpolationMode: 'monotone',
            order: 1
          }
        ]
      },
      options: {
        responsive: false,
        animation: false,
        layout: { padding: { top: 14, right: 13, left: 0, bottom: 0 } },
        plugins: { legend: { display: false }, tooltip: { enabled: false }, innerTicks: { box: true, length: 7 } },
        scales: {
          x: {
            type: 'linear', min: 0, max: 365,
            grid: { display: false, drawTicks: false },
            border: { display: false },
            ticks: { padding: 7, autoSkip: false, maxRotation: 0, color: '#000', font: tickFont },
            afterBuildTicks: s => { s.ticks = dayTicks.map(v => ({ value: v })); },
            afterFit: fixHeight(58)
          },
          y: {
            min: -15, max: 10,
            grid: { display: false, drawTicks: false },
            border: { display: false },
            ticks: { stepSize: 5, padding: 6, color: '#000', font: tickFont, callback: absLabel('\u2002') },
            afterFit: fixWidth(86)
          }
        }
      },
      plugins: [innerTicks]
    });

    // legend box inside the plot, built from the dataset labels
    const legendBox = document.getElementById('legend');
    windChart.data.datasets.forEach((ds, i) => {
      const row = document.createElement('div');
      row.className = 'row';
      row.style.top = (i * 24 + 2) + 'px';
      const sw = document.createElement('span');
      sw.className = 'swatch';
      sw.style.borderColor = ds.borderColor;
      const txt = document.createElement('span');
      txt.textContent = ds.label;
      row.append(sw, txt);
      legendBox.appendChild(row);
    });

    new Chart(document.getElementById('scatterChart'), {
      type: 'scatter',
      data: {
        datasets: [
          {
            label: 'Hourly pairs',
            data: toPoints(cloudRows).concat(toPoints(cloudFill), toPoints(upperFill), toPoints(outlierPairs)),
            backgroundColor: '#000',
            borderWidth: 0,
            pointRadius: 2.7,
            order: 3
          },
          {
            label: '1:1',
            data: oneToOneX.map((v, i) => ({ x: v, y: oneToOneY[i] })),
            showLine: true,
            borderColor: '#000',
            borderWidth: 1,
            pointRadius: 0,
            order: 1
          },
          {
            label: 'fit',
            data: fitLineX.map((v, i) => ({ x: v, y: fitLineY[i] })),
            showLine: true,
            borderColor: '#c4c4c4',
            borderWidth: 1,
            pointRadius: 0,
            order: 2
          }
        ]
      },
      options: {
        responsive: false,
        animation: false,
        layout: { padding: { top: 18, right: 13, left: 0, bottom: 0 } },
        plugins: { legend: { display: false }, tooltip: { enabled: false }, innerTicks: { box: false, length: 8 } },
        scales: {
          x: {
            type: 'linear', min: -20, max: 20,
            grid: { display: false, drawTicks: false },
            border: { display: false },
            ticks: { stepSize: 5, padding: 6, autoSkip: false, maxRotation: 0, color: '#000', font: tickFont, callback: absLabel('\u2002\u2002') },
            afterFit: fixHeight(55)
          },
          y: {
            min: -20, max: 20,
            grid: { display: false, drawTicks: false },
            border: { display: false },
            ticks: { stepSize: 5, padding: 6, color: '#000', font: tickFont, callback: absLabel('\u2002') },
            afterFit: fixWidth(83)
          }
        }
      },
      plugins: [innerTicks]
    });
  </script>
</body>

</html>
